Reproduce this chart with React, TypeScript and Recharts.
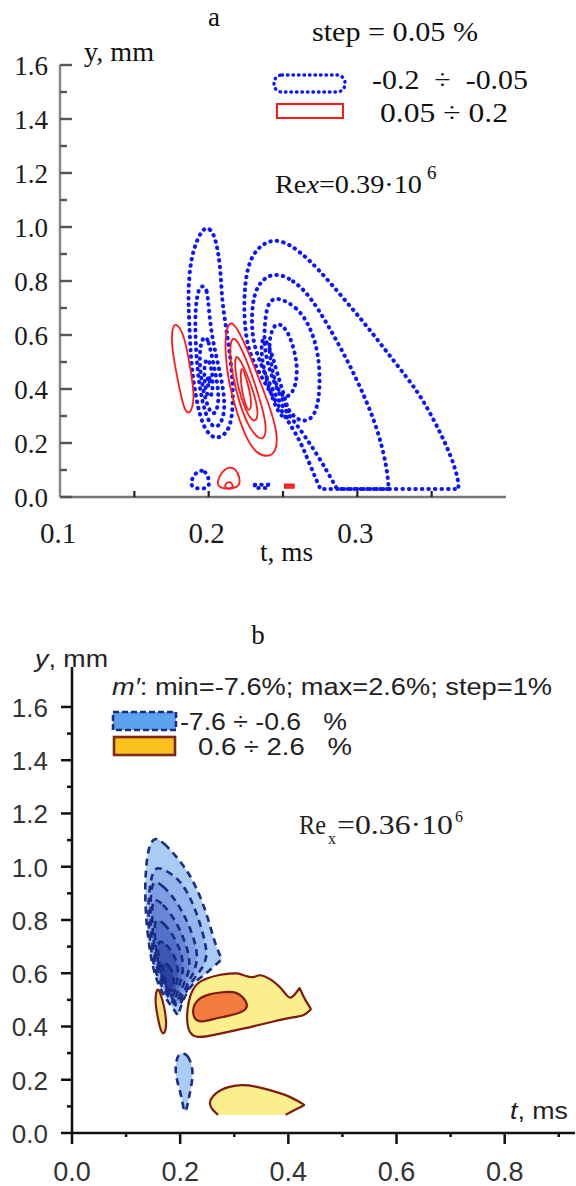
import React from "react";
import { ScatterChart, Scatter, XAxis, YAxis } from "recharts";

type P = [number, number];

// ---------- panel a : t (ms) / y (mm) contour points ----------
const aXTicks = [0.1, 0.15, 0.2, 0.25, 0.3, 0.35];
const aXLabels = [0.1, 0.2, 0.3];
const aYTicks = [0, 0.1, 0.2, 0.3, 0.4, 0.5, 0.6, 0.7, 0.8, 0.9, 1.0, 1.1, 1.2, 1.3, 1.4, 1.5, 1.6];

// negative levels (blue, dotted)
const aNegL1: P[] = [[0.196, 1.0], [0.201, 0.996], [0.205, 0.955], [0.208, 0.85], [0.209, 0.72], [0.212, 0.62], [0.215, 0.5], [0.2165, 0.4], [0.216, 0.3], [0.213, 0.24], [0.206, 0.214], [0.2, 0.23], [0.195, 0.28], [0.191, 0.38], [0.188, 0.5], [0.187, 0.65], [0.186, 0.75], [0.188, 0.9]];
const aNegL2: P[] = [[0.196, 0.785], [0.199, 0.77], [0.2, 0.7], [0.202, 0.6], [0.206, 0.5], [0.21, 0.4], [0.211, 0.32], [0.208, 0.265], [0.203, 0.255], [0.198, 0.3], [0.194, 0.4], [0.192, 0.5], [0.191, 0.6], [0.191, 0.7], [0.193, 0.77]];
const aNegL3: P[] = [[0.197, 0.6], [0.2, 0.58], [0.203, 0.5], [0.206, 0.42], [0.207, 0.35], [0.204, 0.3], [0.2, 0.32], [0.196, 0.4], [0.194, 0.48], [0.194, 0.56]];
const aNegL4: P[] = [[0.199, 0.52], [0.202, 0.48], [0.203, 0.42], [0.202, 0.37], [0.199, 0.37], [0.197, 0.43], [0.197, 0.49]];
const aNegL5: P[] = [[0.2, 0.46], [0.201, 0.43], [0.2, 0.4], [0.199, 0.43]];
const aNegM1: P[] = [[0.236, 0.6], [0.241, 0.56], [0.246, 0.46], [0.251, 0.37], [0.255, 0.3], [0.251, 0.285], [0.245, 0.33], [0.239, 0.43], [0.235, 0.53]];
const aNegR1: P[] = [[0.2414, 0.952], [0.25, 0.948], [0.26, 0.915], [0.273, 0.85], [0.29, 0.74], [0.307, 0.63], [0.325, 0.5], [0.341, 0.39], [0.352, 0.28], [0.36, 0.19], [0.365, 0.12], [0.368, 0.06], [0.368, 0.03], [0.368, 0.03], [0.368, 0.03], [0.34, 0.03], [0.31, 0.03], [0.2751, 0.03], [0.2751, 0.03], [0.2751, 0.03], [0.268, 0.12], [0.2616, 0.21], [0.25, 0.31], [0.238, 0.42], [0.228, 0.52], [0.2246, 0.605], [0.2235, 0.73], [0.2257, 0.852], [0.232, 0.92]];
const aNegR2: P[] = [[0.2437, 0.835], [0.2571, 0.804], [0.2684, 0.742], [0.2796, 0.643], [0.2908, 0.532], [0.302, 0.409], [0.3133, 0.26], [0.32, 0.111], [0.3211, 0.03], [0.3211, 0.03], [0.3211, 0.03], [0.3, 0.03], [0.2863, 0.03], [0.2863, 0.03], [0.2863, 0.03], [0.2728, 0.162], [0.2571, 0.285], [0.2459, 0.359], [0.2325, 0.52], [0.229, 0.605], [0.229, 0.705], [0.2325, 0.79]];
const aNegR3: P[] = [[0.2459, 0.742], [0.2594, 0.705], [0.2684, 0.631], [0.274, 0.532], [0.2751, 0.409], [0.2728, 0.322], [0.2684, 0.285], [0.2616, 0.279], [0.255, 0.31], [0.2482, 0.372], [0.2414, 0.458], [0.2369, 0.557], [0.238, 0.668], [0.2403, 0.723]];
const aNegR4: P[] = [[0.2445, 0.65], [0.2515, 0.631], [0.2565, 0.569], [0.26, 0.483], [0.2585, 0.409], [0.2545, 0.372], [0.2493, 0.37], [0.2448, 0.421], [0.2414, 0.507], [0.2403, 0.581]];
const aNegB1: P[] = [[0.1935, 0.1], [0.198, 0.095], [0.2, 0.07], [0.201, 0.03], [0.19, 0.03], [0.1875, 0.05], [0.19, 0.08]];
const aNegB2: P[] = [[0.231, 0.045], [0.24, 0.045], [0.24, 0.033], [0.231, 0.033]];

// positive levels (red, solid)
const aPosL: P[] = [[0.1774, 0.645], [0.181, 0.625], [0.1842, 0.581], [0.1875, 0.483], [0.1898, 0.4], [0.19, 0.35], [0.1875, 0.308], [0.1845, 0.315], [0.1819, 0.359], [0.1774, 0.483], [0.1752, 0.56], [0.1752, 0.62]];
const aPos1: P[] = [[0.2156, 0.66], [0.2235, 0.581], [0.2325, 0.458], [0.2403, 0.347], [0.2465, 0.236], [0.2455, 0.165], [0.2392, 0.148], [0.2325, 0.16], [0.2257, 0.211], [0.219, 0.31], [0.2134, 0.421], [0.2108, 0.544], [0.2118, 0.625]];
const aPos2: P[] = [[0.2167, 0.61], [0.2257, 0.508], [0.2325, 0.396], [0.2385, 0.285], [0.2385, 0.223], [0.2347, 0.21], [0.228, 0.248], [0.2212, 0.334], [0.2156, 0.458], [0.2138, 0.557]];
const aPos3: P[] = [[0.2184, 0.54], [0.2257, 0.458], [0.2313, 0.372], [0.2338, 0.297], [0.2302, 0.272], [0.2246, 0.322], [0.2195, 0.409], [0.2173, 0.489]];
const aPos4: P[] = [[0.2218, 0.497], [0.2257, 0.433], [0.2291, 0.359], [0.2277, 0.308], [0.224, 0.347], [0.2212, 0.427]];
const aPosB1: P[] = [[0.214, 0.113], [0.218, 0.105], [0.221, 0.075], [0.2212, 0.03], [0.206, 0.03], [0.2058, 0.06], [0.209, 0.095]];
const aPosB2: P[] = [[0.2135, 0.058], [0.216, 0.05], [0.2165, 0.03], [0.211, 0.03], [0.211, 0.048]];
const aPosB3: P[] = [[0.2515, 0.045], [0.257, 0.045], [0.257, 0.035], [0.2515, 0.035]];

// ---------- panel b ----------
const bXTicks = [0, 0.1, 0.2, 0.3, 0.4, 0.5, 0.6, 0.7, 0.8, 0.9];
const bYTicks = [0, 0.1, 0.2, 0.3, 0.4, 0.5, 0.6, 0.7, 0.8, 0.9, 1.0, 1.1, 1.2, 1.3, 1.4, 1.5, 1.6];

const bNeg0: P[] = [[0.152, 1.115], [0.17, 1.09], [0.192, 1.04], [0.2126, 0.987], [0.228, 0.93], [0.242, 0.863], [0.254, 0.79], [0.264, 0.713], [0.277, 0.652], [0.277, 0.652], [0.262, 0.625], [0.24, 0.585], [0.221, 0.56], [0.205, 0.5], [0.196, 0.44], [0.196, 0.44], [0.183, 0.48], [0.166, 0.525], [0.152, 0.6], [0.145, 0.67], [0.139, 0.76], [0.136, 0.84], [0.135, 0.93], [0.137, 1.0], [0.141, 1.07]];
const bNeg1: P[] = [[0.153, 1.005], [0.175, 0.985], [0.196, 0.955], [0.212, 0.91], [0.226, 0.85], [0.238, 0.78], [0.247, 0.71], [0.25, 0.66], [0.24, 0.615], [0.225, 0.58], [0.21, 0.53], [0.198, 0.465], [0.186, 0.49], [0.168, 0.54], [0.155, 0.6], [0.147, 0.67], [0.142, 0.76], [0.141, 0.85], [0.144, 0.94]];
const bNeg2: P[] = [[0.148, 0.955], [0.168, 0.93], [0.19, 0.88], [0.21, 0.81], [0.224, 0.74], [0.233, 0.67], [0.228, 0.61], [0.214, 0.565], [0.203, 0.51], [0.196, 0.475], [0.185, 0.5], [0.17, 0.55], [0.158, 0.61], [0.15, 0.68], [0.145, 0.77], [0.145, 0.87]];
const bNeg3: P[] = [[0.148, 0.89], [0.168, 0.86], [0.188, 0.81], [0.205, 0.74], [0.217, 0.67], [0.218, 0.61], [0.206, 0.56], [0.198, 0.51], [0.194, 0.48], [0.184, 0.51], [0.17, 0.56], [0.158, 0.63], [0.151, 0.71], [0.148, 0.8]];
const bNeg4: P[] = [[0.152, 0.81], [0.17, 0.79], [0.188, 0.74], [0.202, 0.68], [0.207, 0.62], [0.2, 0.565], [0.194, 0.52], [0.19, 0.495], [0.181, 0.525], [0.168, 0.58], [0.158, 0.65], [0.153, 0.73]];
const bNeg5: P[] = [[0.157, 0.73], [0.174, 0.71], [0.189, 0.67], [0.197, 0.62], [0.195, 0.57], [0.19, 0.53], [0.186, 0.51], [0.178, 0.54], [0.167, 0.59], [0.16, 0.65]];
const bNeg6: P[] = [[0.165, 0.65], [0.18, 0.63], [0.189, 0.59], [0.188, 0.55], [0.184, 0.525], [0.176, 0.55], [0.168, 0.6]];
const bNegLow: P[] = [[0.205, 0.302], [0.214, 0.292], [0.221, 0.26], [0.224, 0.22], [0.22, 0.17], [0.215, 0.12], [0.211, 0.08], [0.207, 0.08], [0.204, 0.12], [0.198, 0.17], [0.191, 0.22], [0.192, 0.27], [0.197, 0.295]];

const bPosMain: P[] = [[0.2126, 0.46], [0.218, 0.52], [0.231, 0.565], [0.25, 0.582], [0.2736, 0.595], [0.29, 0.598], [0.305, 0.602], [0.32, 0.59], [0.335, 0.582], [0.345, 0.594], [0.353, 0.592], [0.368, 0.577], [0.384, 0.55], [0.395, 0.522], [0.403, 0.502], [0.412, 0.52], [0.421, 0.545], [0.421, 0.545], [0.428, 0.51], [0.442, 0.465], [0.442, 0.465], [0.43, 0.44], [0.409, 0.435], [0.37, 0.418], [0.335, 0.4], [0.3, 0.385], [0.2736, 0.373], [0.25, 0.363], [0.231, 0.358], [0.218, 0.372], [0.2126, 0.41]];
const bPosCore: P[] = [[0.2218, 0.46], [0.23, 0.5], [0.2495, 0.52], [0.27, 0.527], [0.292, 0.532], [0.305, 0.527], [0.316, 0.512], [0.3265, 0.478], [0.318, 0.458], [0.305, 0.448], [0.285, 0.438], [0.261, 0.428], [0.24, 0.416], [0.227, 0.423]];
const bPosLeft: P[] = [[0.1575, 0.548], [0.163, 0.53], [0.17, 0.48], [0.175, 0.42], [0.173, 0.38], [0.168, 0.37], [0.163, 0.39], [0.158, 0.44], [0.153, 0.5]];
const bPosLow: P[] = [[0.27, 0.068], [0.258, 0.09], [0.253, 0.113], [0.26, 0.14], [0.2736, 0.161], [0.29, 0.174], [0.314, 0.182], [0.34, 0.175], [0.362, 0.163], [0.385, 0.15], [0.403, 0.136], [0.418, 0.12], [0.43, 0.105], [0.43, 0.105], [0.41, 0.085], [0.395, 0.068]];

const bNegLevels = [bNeg0, bNeg1, bNeg2, bNeg3, bNeg4, bNeg5, bNeg6];
const bNegColors = ["#aacbf3", "#94b6ec", "#7d9ee2", "#6887d6", "#5170c8", "#3c58b4", "#2a43a0"];

const pts = (arr: P[]) => arr.map(([t, y]) => ({ t, y }));
const noDot = () => <g />;

const BLUE_DOTS = { stroke: "#0a14ff", strokeWidth: 4, strokeDasharray: "0.5 6", strokeLinecap: "round" as const, fill: "none" };
const RED_LINE = { stroke: "#ff1a1a", strokeWidth: 1.8, fill: "none" };

function contour(key: string, arr: P[], line: any, curve: any = "basisClosed") {
  return (
    <Scatter
      key={key}
      data={pts(arr)}
      line={line}
      lineJointType={curve}
      shape={noDot}
      isAnimationActive={false}
    />
  );
}

const serif = "'Liberation Serif', 'Times New Roman', serif";
const sans = "'Liberation Sans', Arial, sans-serif";

const ATickY = (props: any) => {
  const { x, y, payload } = props;
  const v = payload.value as number;
  const major = Math.round(v * 10) % 2 === 0;
  return (
    <g>
      <line x1={x} x2={x + (major ? 12 : 7)} y1={y} y2={y} stroke="#555" strokeWidth={2.4} />
      {major && (
        <text x={x - 12} y={y + 1} textAnchor="end" dominantBaseline="central" fontFamily={serif} fontSize={27} fill="#1a1a1a">
          {v.toFixed(1)}
        </text>
      )}
    </g>
  );
};

const ATickX = (props: any) => {
  const { x, y, payload } = props;
  const v = payload.value as number;
  const labelled = aXLabels.some((l) => Math.abs(l - v) < 1e-6);
  return (
    <g>
      {v > 0.101 && <line x1={x} x2={x} y1={y} y2={y - 6} stroke="#222" strokeWidth={2.2} />}
      {labelled && (
        <text x={x - 2} y={y + 36} textAnchor="middle" dominantBaseline="central" fontFamily={serif} fontSize={29} fill="#1a1a1a">
          {v.toFixed(1)}
        </text>
      )}
    </g>
  );
};

const BTickY = (props: any) => {
  const { x, y, payload } = props;
  const v = payload.value as number;
  const major = Math.round(v * 10) % 2 === 0;
  return (
    <g>
      <line x1={x} x2={x - (major ? 11 : 5)} y1={y} y2={y} stroke="#111" strokeWidth={2.5} />
      {major && (
        <text x={x - 24} y={y + 1} textAnchor="end" dominantBaseline="central" fontFamily={sans} fontSize={26} fill="#333">
          {v.toFixed(1)}
        </text>
      )}
    </g>
  );
};

const BTickX = (props: any) => {
  const { x, y, payload } = props;
  const v = payload.value as number;
  const major = Math.round(v * 10) % 2 === 0;
  return (
    <g>
      <line x1={x} x2={x} y1={y} y2={y + (major ? 11 : 4)} stroke="#111" strokeWidth={2.5} />
      {major && (
        <text x={x} y={y + 39} textAnchor="middle" dominantBaseline="central" fontFamily={sans} fontSize={27} fill="#333">
          {v.toFixed(1)}
        </text>
      )}
    </g>
  );
};

export default function App() {
  return (
    <div style={{ position: "absolute", left: 0, top: 0, width: 576, height: 1186, background: "#fff" }}>
      <div style={{ position: "absolute", left: 0, top: 0 }}>
        <ScatterChart width={576} height={600} margin={{ top: 65, right: 70, bottom: 0, left: 0 }}>
          <XAxis
            dataKey="t"
            type="number"
            domain={[0.1, 0.4]}
            ticks={aXTicks}
            interval={0}
            height={103}
            tickSize={0}
            tickMargin={0}
            tickLine={false}
            tick={ATickX}
            axisLine={{ stroke: "#777", strokeWidth: 2.5 }}
            allowDataOverflow
          />
          <YAxis
            dataKey="y"
            type="number"
            domain={[0, 1.6]}
            ticks={aYTicks}
            interval={0}
            width={60}
            tickSize={0}
            tickMargin={0}
            tickLine={false}
            tick={ATickY}
            axisLine={{ stroke: "#888", strokeWidth: 2.5 }}
            allowDataOverflow
          />
          {contour("nl1", aNegL1, BLUE_DOTS)}
          {contour("nl2", aNegL2, BLUE_DOTS)}
          {contour("nl3", aNegL3, BLUE_DOTS)}
          {contour("nl4", aNegL4, BLUE_DOTS)}
          {contour("nl5", aNegL5, BLUE_DOTS)}
          {contour("nm1", aNegM1, BLUE_DOTS)}
          {contour("nr1", aNegR1, BLUE_DOTS)}
          {contour("nr2", aNegR2, BLUE_DOTS)}
          {contour("nr3", aNegR3, BLUE_DOTS)}
          {contour("nr4", aNegR4, BLUE_DOTS)}
          {contour("nb1", aNegB1, BLUE_DOTS)}
          {contour("nb2", aNegB2, BLUE_DOTS, "linearClosed")}
          {contour("pl", aPosL, RED_LINE)}
          {contour("p1", aPos1, RED_LINE)}
          {contour("p2", aPos2, RED_LINE)}
          {contour("p3", aPos3, RED_LINE)}
          {contour("p4", aPos4, RED_LINE)}
          {contour("pb1", aPosB1, RED_LINE)}
          {contour("pb2", aPosB2, RED_LINE)}
          {contour("pb3", aPosB3, { ...RED_LINE, strokeWidth: 2.5 }, "linearClosed")}
        </ScatterChart>
      </div>

      <div style={{ position: "absolute", left: 0, top: 600 }}>
        <ScatterChart width={576} height={586} margin={{ top: 67, right: 1, bottom: 0, left: 0 }}>
          <XAxis
            dataKey="t"
            type="number"
            domain={[0, 0.93]}
            ticks={bXTicks}
            interval={0}
            height={53}
            tickSize={0}
            tickMargin={0}
            tickLine={false}
            tick={BTickX}
            axisLine={{ stroke: "#111", strokeWidth: 2.5 }}
            allowDataOverflow
          />
          <YAxis
            dataKey="y"
            type="number"
            domain={[0, 1.75]}
            ticks={bYTicks}
            interval={0}
            width={72}
            tickSize={0}
            tickMargin={0}
            tickLine={false}
            tick={BTickY}
            axisLine={{ stroke: "#111", strokeWidth: 2.5 }}
            allowDataOverflow
          />
          {bNegLevels.map((lv, i) =>
            contour("bn" + i, lv, {
              fill: bNegColors[i],
              stroke: "#1b2c85",
              strokeWidth: 2.6,
              strokeDasharray: "7 5",
            })
          )}
          {contour("bnl", bNegLow, { fill: bNegColors[0], stroke: "#1b2c85", strokeWidth: 2.6, strokeDasharray: "7 5" })}
          {contour("bpm", bPosMain, { fill: "#fbee8c", stroke: "#7e1c10", strokeWidth: 2.2 })}
          {contour("bpc", bPosCore, { fill: "#f47b3e", stroke: "#7e1c10", strokeWidth: 2.2 })}
          {contour("bpl", bPosLeft, { fill: "#fbe07a", stroke: "#7e1c10", strokeWidth: 2.2 })}
          {contour("bpw", bPosLow, { fill: "#fbee8c", stroke: "#7e1c10", strokeWidth: 2.2 }, "basis")}
        </ScatterChart>
      </div>

      <svg width={576} height={1186} style={{ position: "absolute", left: 0, top: 0, pointerEvents: "none" }}>
        {/* panel a annotations */}
        <g fontFamily={serif} fill="#111">
          <text x={214} y={17} textAnchor="middle" dominantBaseline="central" fontSize={27}>a</text>
          <text x={84} y={52} dominantBaseline="central" fontSize={27} textLength={70} lengthAdjust="spacingAndGlyphs">y, mm</text>
          <text x={312} y={32} dominantBaseline="central" fontSize={27} textLength={166} lengthAdjust="spacingAndGlyphs">step = 0.05 %</text>
          <rect x={274} y={75} width={71} height={17} rx={8} fill="none" stroke="#0a14ff" strokeWidth={3.4} strokeDasharray="0.5 5" strokeLinecap="round" />
          <text x={372} y={80} dominantBaseline="central" fontSize={27} textLength={156} lengthAdjust="spacingAndGlyphs" style={{ whiteSpace: "pre" }}>-0.2  ÷  -0.05</text>
          <rect x={277} y={104} width={66} height={14} fill="none" stroke="#ff1a1a" strokeWidth={2} />
          <text x={380} y={113} dominantBaseline="central" fontSize={27} textLength={128} lengthAdjust="spacingAndGlyphs">0.05 ÷ 0.2</text>
          <text x={275} y={184} dominantBaseline="central" fontSize={26} textLength={147} lengthAdjust="spacingAndGlyphs">
            Re<tspan fontStyle="italic">x</tspan>=0.39·10
          </text>
          <text x={427} y={172} dominantBaseline="central" fontSize={19}>6</text>
          <text x={260} y={552} dominantBaseline="central" fontSize={27} textLength={53} lengthAdjust="spacingAndGlyphs">t, ms</text>
        </g>

        {/* panel b annotations */}
        <text x={258} y={635} textAnchor="middle" dominantBaseline="central" fontFamily={serif} fontSize={27} fill="#111">b</text>
        <g fontFamily={sans} fill="#222">
          <text x={35} y={658} dominantBaseline="central" fontSize={24} textLength={73} lengthAdjust="spacingAndGlyphs">
            <tspan fontStyle="italic">y</tspan>, mm
          </text>
          <text x={112} y={687} dominantBaseline="central" fontSize={23} textLength={440} lengthAdjust="spacingAndGlyphs">
            <tspan fontStyle="italic">m′</tspan>: min=-7.6%; max=2.6%; step=1%
          </text>
          <rect x={113} y={712} width={63} height={18} fill="#5aa2ec" stroke="#1b2c85" strokeWidth={2.6} strokeDasharray="6 3" />
          <text x={180} y={722} dominantBaseline="central" fontSize={23} textLength={167} lengthAdjust="spacingAndGlyphs" style={{ whiteSpace: "pre" }}>-7.6 ÷ -0.6   %</text>
          <rect x={114} y={737} width={61} height={18} fill="#f9c21e" stroke="#7e2a12" strokeWidth={2.6} />
          <text x={198} y={747} dominantBaseline="central" fontSize={23} textLength={154} lengthAdjust="spacingAndGlyphs" style={{ whiteSpace: "pre" }}>0.6 ÷ 2.6   %</text>
          <text x={510} y={1110} dominantBaseline="central" fontSize={24} textLength={58} lengthAdjust="spacingAndGlyphs">
            <tspan fontStyle="italic">t</tspan>, ms
          </text>
        </g>
        <g fontFamily={serif} fill="#222">
          <text x={299} y={825} dominantBaseline="central" fontSize={27} textLength={27} lengthAdjust="spacingAndGlyphs">Re</text>
          <text x={328} y={838} dominantBaseline="central" fontSize={16}>x</text>
          <text x={337} y={825} dominantBaseline="central" fontSize={27} textLength={116} lengthAdjust="spacingAndGlyphs">=0.36·10</text>
          <text x={455} y={816} dominantBaseline="central" fontSize={16}>6</text>
        </g>
      </svg>
    </div>
  );
}
